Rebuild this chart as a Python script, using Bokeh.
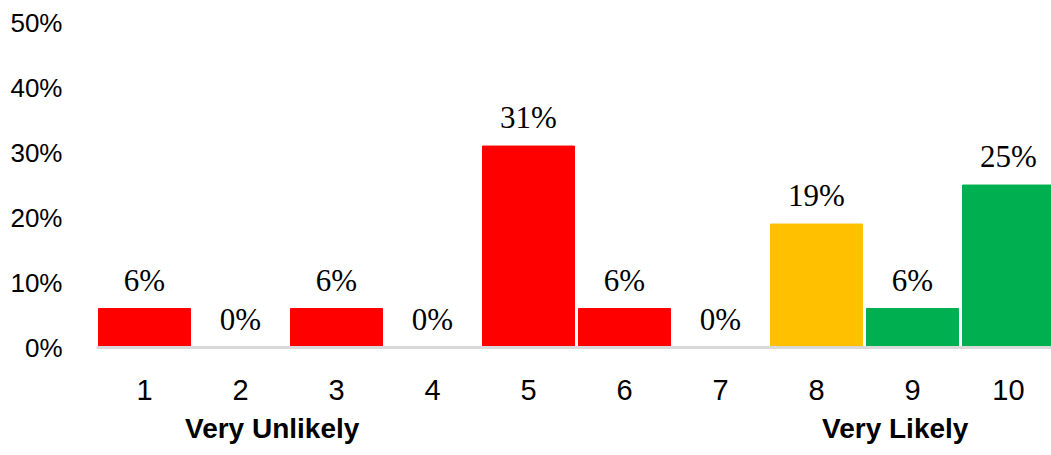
from bokeh.plotting import figure
from bokeh.models import ColumnDataSource, Range1d, FixedTicker, LabelSet, LinearAxis
from bokeh.core.properties import value
from bokeh.embed import file_html
from bokeh.resources import INLINE

categories = ["1", "2", "3", "4", "5", "6", "7", "8", "9", "10"]
percents = [6, 0, 6, 0, 31, 6, 0, 19, 6, 25]
bar_colors = ["#FF0000", "#FF0000", "#FF0000", "#FF0000", "#FF0000", "#FF0000", "#FF0000",
              "#FFC000", "#00B050", "#00B050"]
y_ticks = [0, 10, 20, 30, 40, 50]
end_labels = ["Very Unlikely", "Very Likely"]
end_label_x = [2.33, 8.82]

xs = list(range(1, len(categories) + 1))
src = ColumnDataSource(dict(
    x=xs, top=percents, color=bar_colors,
    label=[f"{v}%" for v in percents],
))

p = figure(width=1051, height=455, output_backend="svg", toolbar_location=None,
           x_range=Range1d(0.5, 10.448), y_range=Range1d(0, 53.4),
           min_border_left=96, min_border_right=0, min_border_top=0, min_border_bottom=108)
p.outline_line_color = None
p.grid.visible = False
p.background_fill_color = "white"
p.border_fill_color = "white"

p.vbar(x="x", top="top", bottom=0, width=0.958, color="color", source=src)

labels = LabelSet(x="x", y="top", text="label", source=src, text_align="center",
                  text_baseline="alphabetic", y_offset=18,
                  text_font=value("Liberation Serif"), text_font_size="31px",
                  text_color="black")
p.add_layout(labels)

# y axis
p.yaxis.ticker = FixedTicker(ticks=y_ticks)
p.yaxis.major_label_overrides = {t: f"{t}%" for t in y_ticks}
p.yaxis.axis_line_color = None
p.yaxis.major_tick_line_color = None
p.yaxis.minor_tick_line_color = None
p.yaxis.major_label_standoff = 28
p.yaxis.major_label_text_font = "Liberation Sans"
p.yaxis.major_label_text_font_size = "26px"
p.yaxis.major_label_text_color = "black"

# x axis (category numbers)
p.xaxis.ticker = FixedTicker(ticks=xs)
p.xaxis.major_label_overrides = {x: c for x, c in zip(xs, categories)}
p.xaxis.axis_line_color = "#D9D9D9"
p.xaxis.axis_line_width = 3
p.xaxis.major_tick_line_color = None
p.xaxis.minor_tick_line_color = None
p.xaxis.major_label_standoff = 26
p.xaxis.major_label_text_font = "Liberation Sans"
p.xaxis.major_label_text_font_size = "29px"
p.xaxis.major_label_text_color = "black"

# second x axis for the scale end labels
end_axis = LinearAxis(ticker=FixedTicker(ticks=end_label_x),
                      major_label_overrides={x: t for x, t in zip(end_label_x, end_labels)})
end_axis.axis_line_color = None
end_axis.major_tick_line_color = None
end_axis.minor_tick_line_color = None
end_axis.major_label_standoff = 4
end_axis.major_label_text_font = "Liberation Sans"
end_axis.major_label_text_font_style = "bold"
end_axis.major_label_text_font_size = "28px"
end_axis.major_label_text_color = "black"
p.add_layout(end_axis, "below")

open("out.html", "w").write(file_html(p, INLINE))
